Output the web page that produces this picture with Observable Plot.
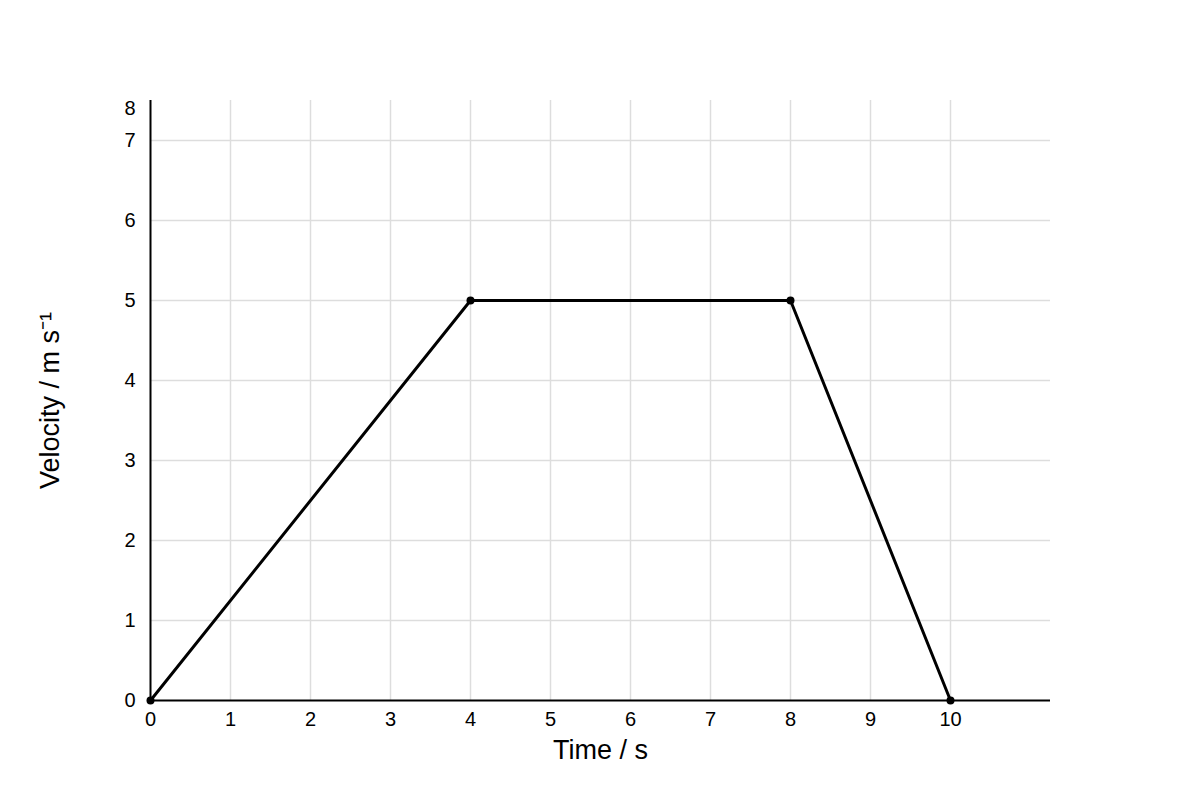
<!DOCTYPE html>
<html>
<head>
<meta charset="utf-8">
<script src="https://cdn.jsdelivr.net/npm/d3@7"></script>
<script src="https://cdn.jsdelivr.net/npm/@observablehq/plot@0.6"></script>
<style>
  html, body { margin: 0; padding: 0; background: #fff; }
  #chart { width: 1200px; height: 800px; }
</style>
</head>
<body>
<div id="chart"></div>
<script>
// Data
const times = [0, 4, 8, 10];
const velocities = [0, 5, 5, 0];
const xTicks = [0, 1, 2, 3, 4, 5, 6, 7, 8, 9, 10];
const yTicks = [0, 1, 2, 3, 4, 5, 6, 7];
const xDomain = [0, 11.25];
const yDomain = [0, 7.5];
const topLabel = "8";
const xLabel = "Time / s";
const yLabel = "Velocity / m s\u207B\u00B9";

const points = times.map((t, i) => ({t, v: velocities[i]}));
const xGrid = xTicks.filter(d => d > 0);
const yGrid = yTicks.filter(d => d > 0);

const chart = Plot.plot({
  width: 1200,
  height: 800,
  marginLeft: 150,
  marginRight: 150,
  marginTop: 100,
  marginBottom: 100,
  style: {fontFamily: "'Liberation Sans', Arial, sans-serif", fontSize: "20px", background: "#fff", color: "#000"},
  x: {domain: xDomain, axis: null},
  y: {domain: yDomain, axis: null},
  marks: [
    Plot.ruleX(xGrid, {x: d => d, y1: yDomain[0], y2: yDomain[1], stroke: "#dddddd", strokeWidth: 1.5}),
    Plot.ruleY(yGrid, {y: d => d, x1: xDomain[0], x2: xDomain[1], stroke: "#dddddd", strokeWidth: 1.5}),
    Plot.ruleX([xDomain[0]], {y1: yDomain[0], y2: yDomain[1], stroke: "#000", strokeWidth: 2}),
    Plot.ruleY([yDomain[0]], {x1: xDomain[0], x2: xDomain[1], stroke: "#000", strokeWidth: 2}),
    Plot.text(xTicks, {x: d => d, y: yDomain[0], text: d => String(d), textAnchor: "middle", lineAnchor: "middle", dy: 19, fontSize: 20, fill: "#000"}),
    Plot.text(yTicks, {x: xDomain[0], y: d => d, text: d => String(d), textAnchor: "end", lineAnchor: "middle", dx: -15, fontSize: 20, fill: "#000"}),
    Plot.text([topLabel], {x: xDomain[0], y: yDomain[1], text: d => d, textAnchor: "end", lineAnchor: "middle", dx: -15, dy: 8, fontSize: 20, fill: "#000"}),
    Plot.line(points, {x: "t", y: "v", stroke: "#000", strokeWidth: 3}),
    Plot.dot(points, {x: "t", y: "v", r: 4, fill: "#000", stroke: "none"}),
    Plot.text([xLabel], {frameAnchor: "bottom", text: d => d, lineAnchor: "middle", textAnchor: "middle", dy: 50, fontSize: 27, fill: "#000"}),
    Plot.text([yLabel], {frameAnchor: "left", text: d => d, lineAnchor: "middle", textAnchor: "middle", dx: -100, rotate: -90, fontSize: 27, fill: "#000"})
  ]
});
document.getElementById("chart").appendChild(chart);
</script>
</body>
</html>
